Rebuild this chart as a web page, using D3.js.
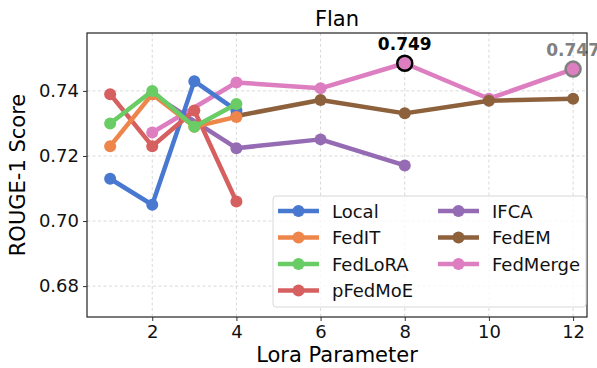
<!DOCTYPE html>
<html>
<head>
<meta charset="utf-8">
<script src="https://cdn.jsdelivr.net/npm/d3@7"></script>
<style>
  body { margin: 0; background: #fff; }
  text { font-family: "DejaVu Sans", sans-serif; }
</style>
</head>
<body>
<svg id="chart"></svg>
<script>
// chart data
var loraTicks = [2, 4, 6, 8, 10, 12],
	scoreTicks = [0.68, 0.70, 0.72, 0.74];

var localX = [1, 2, 3, 4],
	localY = [0.713, 0.705, 0.743, 0.734];
var fedItX = [1, 2, 3, 4],
	fedItY = [0.723, 0.739, 0.729, 0.732];
var fedLoraX = [1, 2, 3, 4],
	fedLoraY = [0.730, 0.740, 0.729, 0.736];
var pFedMoeX = [1, 2, 3, 4],
	pFedMoeY = [0.739, 0.723, 0.734, 0.706];
var ifcaX = [2, 4, 6, 8],
	ifcaY = [0.739, 0.7224, 0.7251, 0.7171];
var fedEmX = [4, 6, 8, 10, 12],
	fedEmY = [0.7323, 0.7372, 0.7331, 0.737, 0.7376];
var fedMergeX = [2, 4, 6, 8, 10, 12],
	fedMergeY = [0.7272, 0.7426, 0.7408, 0.7485, 0.7376, 0.7467];

// svg constants
var width = 597,
	height = 368,
	margin = {top: 33, right: 10, bottom: 51, left: 87};

var series = [
	{name: 'Local', color: '#4878d0', x: localX, y: localY},
	{name: 'FedIT', color: '#ee854a', x: fedItX, y: fedItY},
	{name: 'FedLoRA', color: '#6acc64', x: fedLoraX, y: fedLoraY},
	{name: 'pFedMoE', color: '#d65f5f', x: pFedMoeX, y: pFedMoeY},
	{name: 'IFCA', color: '#956cb4', x: ifcaX, y: ifcaY},
	{name: 'FedEM', color: '#8c613c', x: fedEmX, y: fedEmY},
	{name: 'FedMerge', color: '#dc7ec0', x: fedMergeX, y: fedMergeY}
];
// drawing order so the overlaps look like the reference
var drawOrder = ['FedMerge', 'IFCA', 'FedEM', 'Local', 'pFedMoE', 'FedIT', 'FedLoRA'];

var svg = d3.select('#chart')
	.attr('width', width)
	.attr('height', height);

var x = d3.scaleLinear()
	.domain([0.45, 12.33])
	.range([margin.left, width - margin.right]);

var y = d3.scaleLinear()
	.domain([0.6705, 0.7578])
	.range([height - margin.bottom, margin.top]);

// grid
var grid = svg.append('g');
grid.selectAll('.vgrid')
	.data(loraTicks)
	.enter().append('line')
		.attr('x1', function(d) { return x(d); })
		.attr('x2', function(d) { return x(d); })
		.attr('y1', margin.top)
		.attr('y2', height - margin.bottom);
grid.selectAll('.hgrid')
	.data(scoreTicks)
	.enter().append('line')
		.attr('x1', margin.left)
		.attr('x2', width - margin.right)
		.attr('y1', function(d) { return y(d); })
		.attr('y2', function(d) { return y(d); });
grid.selectAll('line')
	.attr('stroke', '#cfcfcf')
	.attr('stroke-width', 0.8)
	.attr('stroke-dasharray', '3,2.5');

// axes
var xAxis = svg.append('g')
	.attr('transform', 'translate(0,' + (height - margin.bottom) + ')')
	.call(d3.axisBottom(x).tickValues(loraTicks).tickSize(4).tickPadding(4).tickFormat(d3.format('d')));
var yAxis = svg.append('g')
	.attr('transform', 'translate(' + margin.left + ',0)')
	.call(d3.axisLeft(y).tickValues(scoreTicks).tickSize(4).tickPadding(4).tickFormat(d3.format('.2f')));
[xAxis, yAxis].forEach(function(a) {
	a.select('.domain').remove();
	a.selectAll('text').attr('font-size', '18px').attr('fill', '#111')
		.style('font-family', '"DejaVu Sans", sans-serif');
	a.selectAll('line').attr('stroke', '#333');
});

// lines and points
var line = d3.line()
	.x(function(d) { return x(d[0]); })
	.y(function(d) { return y(d[1]); });

drawOrder.forEach(function(name) {
	var s = series.find(function(d) { return d.name === name; });
	var pts = s.x.map(function(v, i) { return [v, s.y[i]]; });
	var g = svg.append('g');
	g.append('path')
		.attr('d', line(pts))
		.attr('fill', 'none')
		.attr('stroke', s.color)
		.attr('stroke-width', 4.5)
		.attr('stroke-linejoin', 'round');
	g.selectAll('circle')
		.data(pts)
		.enter().append('circle')
			.attr('cx', function(d) { return x(d[0]); })
			.attr('cy', function(d) { return y(d[1]); })
			.attr('r', 6)
			.attr('fill', s.color);
});

// highlighted points of FedMerge
var best = [
	{i: 3, color: '#000', label: '0.749'},
	{i: 5, color: '#808080', label: '0.747'}
];
best.forEach(function(b) {
	var px = x(fedMergeX[b.i]), py = y(fedMergeY[b.i]);
	svg.append('circle')
		.attr('cx', px)
		.attr('cy', py)
		.attr('r', 7.5)
		.attr('fill', '#dc7ec0')
		.attr('stroke', b.color)
		.attr('stroke-width', 2.5);
	svg.append('text')
		.attr('x', px)
		.attr('y', py - 13)
		.attr('text-anchor', 'middle')
		.attr('font-size', '17px')
		.attr('font-weight', 'bold')
		.attr('fill', b.color)
		.text(b.label);
});

// frame
svg.append('rect')
	.attr('x', margin.left)
	.attr('y', margin.top)
	.attr('width', width - margin.left - margin.right)
	.attr('height', height - margin.top - margin.bottom)
	.attr('fill', 'none')
	.attr('stroke', '#222')
	.attr('stroke-width', 1.2);

// titles
svg.append('text')
	.attr('x', (margin.left + width - margin.right) / 2)
	.attr('y', 26)
	.attr('text-anchor', 'middle')
	.attr('font-size', '21px')
	.text('Flan');
svg.append('text')
	.attr('x', (margin.left + width - margin.right) / 2)
	.attr('y', 362)
	.attr('text-anchor', 'middle')
	.attr('font-size', '21px')
	.text('Lora Parameter');
svg.append('text')
	.attr('transform', 'translate(25,' + ((margin.top + height - margin.bottom) / 2) + ') rotate(-90)')
	.attr('text-anchor', 'middle')
	.attr('font-size', '21px')
	.text('ROUGE-1 Score');

// legend
var legend = svg.append('g').attr('transform', 'translate(273,196)');
legend.append('rect')
	.attr('width', 313)
	.attr('height', 111)
	.attr('rx', 3)
	.attr('fill', 'rgba(255,255,255,0.8)')
	.attr('stroke', '#d8d8d8');
var items = legend.selectAll('.item')
	.data(series)
	.enter().append('g')
		.attr('transform', function(d, i) {
			var col = i < 4 ? 0 : 1, row = i < 4 ? i : i - 4;
			return 'translate(' + (5 + col * 160) + ',' + (15 + row * 26.5) + ')';
		});
items.append('line')
	.attr('x1', 0).attr('x2', 41)
	.attr('stroke', function(d) { return d.color; })
	.attr('stroke-width', 4.5);
items.append('circle')
	.attr('cx', 20.5)
	.attr('r', 6)
	.attr('fill', function(d) { return d.color; });
items.append('text')
	.attr('x', 54)
	.attr('y', 6.5)
	.attr('font-size', '18px')
	.attr('fill', '#111')
	.text(function(d) { return d.name; });
</script>
</body>
</html>
